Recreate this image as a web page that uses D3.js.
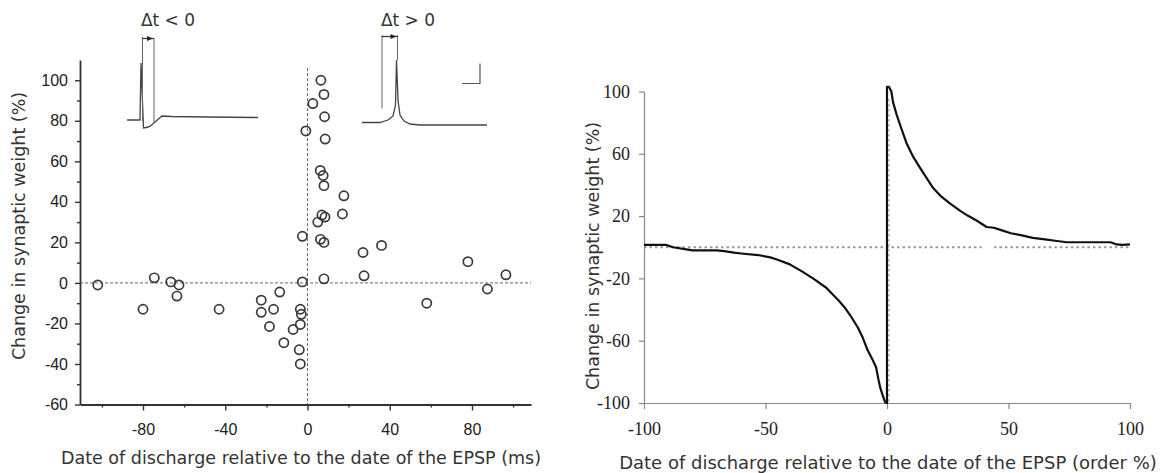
<!DOCTYPE html>
<html><head><meta charset="utf-8">
<script src="https://cdn.jsdelivr.net/npm/d3@7"></script>
<style>
html,body{margin:0;padding:0;background:#fff;}
svg{display:block;}
</style></head>
<body><svg id="chart" width="1165" height="473"></svg>
<script>
// ---------- DATA ----------
// Left panel: scatter of timing difference (ms) vs change in synaptic weight (%)
const scatterDt = [-102,-80,-74.5,-66.5,-62.5,-63.5,-43,-22.5,-22.5,-16.5,-13.5,-18.5,-11.5,-7,-3.5,-3.5,-3,-4,-3.5,-2.5,-2.5,-0.8,2.6,6.5,8,8.3,8.6,6.2,7.6,8,17.7,17,7,8.5,5,6.3,8,27,36,8,27.5,78,96.5,87.5,58];
const scatterDw = [-1,-13,2.5,0.5,-1,-6.5,-13,-8.5,-14.5,-13,-4.5,-21.5,-29.5,-23,-20.5,-13,-15.5,-33,-40,0.5,23,75,88.5,100,93,82,71,55.5,53,48,43,34,33.5,32.5,30,21.5,20,15,18.5,2,3.5,10.5,4,-3,-10];
const leftXTicks = [-80,-40,0,40,80];
const leftXMinor = [-100,-60,-20,20,60,100];
const leftYTicks = [-60,-40,-20,0,20,40,60,80,100];
const leftYMinor = [-50,-30,-10,10,30,50,70,90];

// Right panel: simulated curve, relative order (%) vs change in synaptic weight (%)
const orderPct  = [-100,-95,-91,-88,-82,-80,-70,-67,-63,-60,-53,-48,-45,-40,-35,-30,-25,-20,-17.5,-15,-12,-10,-8,-6,-4.5,-3.5,-2.8,-1.8,-0.8,0,0,0.8,1.8,2.5,4,5.5,8,10.8,14,19,22,26,30,33,37,41,44,47,51,56,60,65,70,74,80,92,94.5,97,100];
const weightPct = [1.5,1.5,1.5,0,-1.5,-2,-2,-2.5,-3.5,-4,-5,-6.5,-8,-11,-15.5,-20.5,-26,-34,-38.5,-44,-51.5,-58,-66,-72,-77,-85,-90,-95,-99.5,-100,103,103,100,93,85,78,67,58,50,38,33,28,23.5,20.5,17,13,12.5,11,9,7.5,6,5,4,3.2,3.2,3.2,1.8,1.5,1.8];
const rightXTicks = [-100,-50,0,50,100];
const rightYTicks = [-100,-60,-20,20,60,100];
const rightZeroSegments = [[-100,39],[44,100]];

// Inset traces (schematic membrane potentials, local units)
const insetNegT = [0,13,14,16.5,19,23,28,35,45,80,131];
const insetNegV = [0,0,57,-8,-7.5,-6.5,-2,4,3.5,3,2.5];
const insetPosT = [0,18,26,31,33.5,34.5,36,38,42,48,58,125];
const insetPosV = [0,0,2.5,6.5,17.5,62.5,22.5,7.5,1.5,-1.5,-2.5,-2.5];

// ---------- DRAW ----------
const svg = d3.select("#chart");
const fmt = d => String(d);

// ===== LEFT PANEL =====
const xLbase = d3.scaleLinear().domain([-80,80]).range([143,472]);
const xL = d3.scaleLinear().domain([xLbase.invert(80), xLbase.invert(531)]).range([80,531]);
const yL = d3.scaleLinear().domain([-60,110]).range([404.5,60]);

// zero lines
svg.append("line").attr("x1",xL.range()[0]).attr("x2",xL.range()[1])
  .attr("y1",yL(0)).attr("y2",yL(0))
  .attr("stroke","#666").attr("stroke-width",1).attr("stroke-dasharray","3,2");
svg.append("line").attr("x1",xL(0)).attr("x2",xL(0))
  .attr("y1",yL(106)).attr("y2",yL(-60))
  .attr("stroke","#666").attr("stroke-width",1).attr("stroke-dasharray","3,2");

// axes
const gYL = svg.append("g").attr("transform",`translate(${xL.range()[0]},0)`)
  .call(d3.axisLeft(yL).tickValues(leftYTicks).tickFormat(fmt).tickSize(5).tickSizeOuter(0).tickPadding(7));
svg.append("g").attr("transform",`translate(${xL.range()[0]},0)`)
  .call(d3.axisLeft(yL).tickValues(leftYMinor).tickFormat("").tickSize(3).tickSizeOuter(0))
  .select(".domain").remove();
const gXL = svg.append("g").attr("transform",`translate(0,${yL(-60)})`)
  .call(d3.axisBottom(xL).tickValues(leftXTicks).tickFormat(fmt).tickSize(6).tickSizeOuter(0).tickPadding(13));
svg.append("g").attr("transform",`translate(0,${yL(-60)})`)
  .call(d3.axisBottom(xL).tickValues(leftXMinor).tickFormat("").tickSize(3).tickSizeOuter(0))
  .select(".domain").remove();
svg.selectAll("g").selectAll(".domain").attr("stroke","#333").attr("stroke-width",1.8);
svg.selectAll("g").selectAll(".tick line").attr("stroke","#333").attr("stroke-width",1.4);
[gYL,gXL].forEach(g=>g.selectAll("text")
  .attr("font-family","'Liberation Sans', Arial, sans-serif").attr("font-size",16).attr("fill","#222"));

// scatter
svg.append("g").selectAll("circle").data(scatterDt.map((d,i)=>[d,scatterDw[i]]))
  .join("circle")
  .attr("cx",d=>xL(d[0])).attr("cy",d=>yL(d[1])).attr("r",4.6)
  .attr("fill","none").attr("stroke","#3a3a3a").attr("stroke-width",1.7);

// titles
svg.append("text").attr("x",301).attr("y",464).attr("text-anchor","middle")
  .attr("font-family","'DejaVu Sans', Verdana, sans-serif").attr("font-size",17.5).attr("fill","#333")
  .text("Date of discharge relative to the date of the EPSP (ms)");
svg.append("text").attr("transform","translate(25,226) rotate(-90)").attr("text-anchor","middle")
  .attr("font-family","'DejaVu Sans', Verdana, sans-serif").attr("font-size",17.5).attr("fill","#333")
  .text("Change in synaptic weight (%)");

// insets
function drawInset(ts, vs, ox, oy, markers, label, labelX, scaleBar){
  const sx = d3.scaleLinear().domain([0,100]).range([ox, ox+100]);
  const sy = d3.scaleLinear().domain([0,100]).range([oy, oy-100]);
  const line = d3.line().x(d=>sx(d[0])).y(d=>sy(d[1]));
  svg.append("path").attr("d",line(ts.map((t,i)=>[t,vs[i]])))
    .attr("fill","none").attr("stroke","#444").attr("stroke-width",1.3);
  markers.lines.forEach(m=>{
    svg.append("line").attr("x1",sx(m[0])).attr("x2",sx(m[0]))
      .attr("y1",sy(m[1])).attr("y2",sy(m[2])).attr("stroke","#666").attr("stroke-width",1);
  });
  const a = markers.arrow;
  svg.append("line").attr("x1",sx(a[0])).attr("x2",sx(a[1])).attr("y1",sy(a[2])).attr("y2",sy(a[2]))
    .attr("stroke","#333").attr("stroke-width",1.2);
  const tip = sx(a[1])-1, yy = sy(a[2]);
  svg.append("path").attr("d",`M${tip},${yy}L${tip-6},${yy-2.5}L${tip-6},${yy+2.5}Z`).attr("fill","#222");
  svg.append("text").attr("x",labelX).attr("y",26).attr("text-anchor","middle")
    .attr("font-family","'DejaVu Sans', Verdana, sans-serif").attr("font-size",17).attr("fill","#333")
    .text(label);
  if(scaleBar){
    const s = scaleBar;
    svg.append("path").attr("d",`M${sx(s[0])},${sy(s[2])}H${sx(s[1])}V${sy(s[3])}`)
      .attr("fill","none").attr("stroke","#555").attr("stroke-width",1.2);
  }
}
drawInset(insetNegT, insetNegV, 127, 120,
  {lines:[[15.5,83,-1],[27,82,-3]], arrow:[15.5,27,81.5]}, "\u0394t < 0", 168, null);
drawInset(insetPosT, insetPosV, 362, 122.5,
  {lines:[[20,87.5,14],[35.5,87.5,62.5]], arrow:[20,35.5,86]}, "\u0394t > 0", 408, [100,118,39,59]);

// ===== RIGHT PANEL =====
const xR = d3.scaleLinear().domain([-100,100]).range([644,1130]);
const yR = d3.scaleLinear().domain([-100,100]).range([403,91.5]);

rightZeroSegments.forEach(s=>{
  svg.append("line").attr("x1",xR(s[0])).attr("x2",xR(s[1])).attr("y1",yR(0)).attr("y2",yR(0))
    .attr("stroke","#999").attr("stroke-width",2).attr("stroke-dasharray","2.5,3");
});
svg.append("line").attr("x1",xR(0)+2).attr("x2",xR(0)+2).attr("y1",yR(95)).attr("y2",yR(-100))
  .attr("stroke","#aaa").attr("stroke-width",1.5).attr("stroke-dasharray","2,3");

const gYR = svg.append("g").attr("transform",`translate(${xR(-100)},0)`)
  .call(d3.axisLeft(yR).tickValues(rightYTicks).tickFormat(fmt).tickSize(5).tickSizeOuter(0).tickPadding(9));
const gXR = svg.append("g").attr("transform",`translate(0,${yR(-100)})`)
  .call(d3.axisBottom(xR).tickValues(rightXTicks).tickFormat(fmt).tickSize(6).tickSizeOuter(0).tickPadding(13));
[gYR,gXR].forEach(g=>{
  g.select(".domain").attr("stroke","#888").attr("stroke-width",1.2);
  g.selectAll(".tick line").attr("stroke","#888").attr("stroke-width",1.2);
  g.selectAll("text").attr("font-family","'Liberation Serif', 'Times New Roman', serif")
    .attr("font-size",18).attr("fill","#222");
});

svg.append("path")
  .attr("d",d3.line().x(d=>xR(d[0])).y(d=>yR(d[1]))(orderPct.map((o,i)=>[o,weightPct[i]])))
  .attr("fill","none").attr("stroke","#111").attr("stroke-width",2.2).attr("stroke-linejoin","round");

svg.append("text").attr("x",888).attr("y",469).attr("text-anchor","middle")
  .attr("font-family","'DejaVu Sans', Verdana, sans-serif").attr("font-size",18).attr("fill","#333")
  .text("Date of discharge relative to the date of the EPSP (order %)");
svg.append("text").attr("transform","translate(599,256) rotate(-90)").attr("text-anchor","middle")
  .attr("font-family","'DejaVu Sans', Verdana, sans-serif").attr("font-size",17.5).attr("fill","#333")
  .text("Change in synaptic weight (%)");
</script>
</body></html>
